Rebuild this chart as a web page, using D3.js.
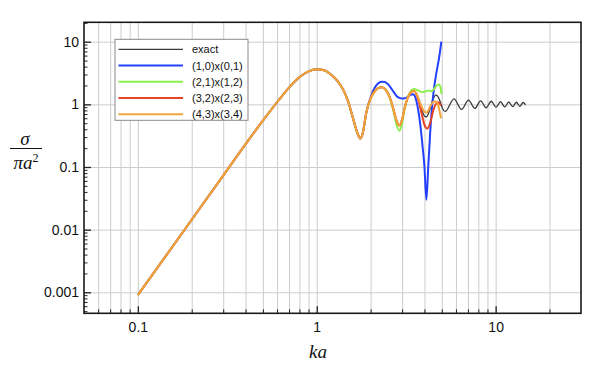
<!DOCTYPE html>
<html>
<head>
<meta charset="utf-8">
<script src="https://cdn.jsdelivr.net/npm/d3@7"></script>
<style>
  body { margin: 0; background: #fff; }
  svg { display: block; }
</style>
</head>
<body>
<div id="chart"></div>
<script>
// Values (sigma / pi a^2 against ka)

// part shared by all curves (they lie on top of each other up to ka ~ 1.9)
var kaCommon = [0.1, 0.2, 0.3, 0.4, 0.5, 0.6, 0.7, 0.8, 0.9, 1.0, 1.1, 1.2, 1.3, 1.4, 1.5, 1.6, 1.7, 1.75, 1.8, 1.9];
var sigmaCommon = [0.0009, 0.0144, 0.073, 0.232, 0.55, 1.08, 1.85, 2.7, 3.35, 3.62, 3.5, 3.0, 2.4, 1.75, 1.1, 0.58, 0.33, 0.285, 0.33, 0.78];

var kaExact = [2.0, 2.1, 2.2, 2.3, 2.4, 2.5, 2.6, 2.7, 2.8, 2.9, 3.0, 3.1, 3.2, 3.3, 3.4, 3.5, 3.6, 3.7, 3.8, 3.9, 4.0, 4.1, 4.2, 4.3, 4.4, 4.5, 4.62, 4.75, 4.9, 5.05, 5.22,
  5.85, 6.45, 7.05, 7.65, 8.25, 8.85, 9.45, 10.05, 10.65, 11.25, 11.85, 12.45, 13.05, 13.65, 14.25, 14.7];
var sigmaExact = [1.25, 1.6, 1.82, 1.88, 1.78, 1.5, 1.14, 0.78, 0.54, 0.46, 0.57, 0.88, 1.2, 1.45, 1.6, 1.63, 1.5, 1.24, 0.96, 0.76, 0.65, 0.63, 0.7, 0.86, 1.06, 1.26, 1.4, 1.34, 1.1, 0.86, 0.77,
  1.22, 0.83, 1.17, 0.86, 1.14, 0.88, 1.12, 0.9, 1.1, 0.91, 1.09, 0.92, 1.08, 0.93, 1.07, 0.98];

var kaBlue = [2.0, 2.1, 2.2, 2.3, 2.4, 2.5, 2.6, 2.7, 2.8, 2.9, 3.0, 3.1, 3.2, 3.3, 3.4, 3.5, 3.6, 3.7, 3.8, 3.9, 4.0, 4.1, 4.2, 4.3, 4.4, 4.5, 4.6, 4.7, 4.8, 4.9, 4.97];
var sigmaBlue = [1.3, 1.8, 2.15, 2.3, 2.28, 2.1, 1.82, 1.55, 1.35, 1.27, 1.24, 1.25, 1.3, 1.38, 1.45, 1.42, 1.15, 0.78, 0.45, 0.22, 0.1, 0.03, 0.1, 0.33, 0.85, 1.6, 2.5, 3.6, 5.0, 7.3, 10];

var kaGreen = [2.0, 2.1, 2.2, 2.3, 2.4, 2.5, 2.6, 2.7, 2.8, 2.9, 3.0, 3.1, 3.2, 3.3, 3.4, 3.5, 3.6, 3.75, 3.9, 4.05, 4.2, 4.35, 4.5, 4.65, 4.8, 4.9, 4.98];
var sigmaGreen = [1.22, 1.58, 1.8, 1.88, 1.78, 1.5, 1.1, 0.72, 0.46, 0.38, 0.5, 0.85, 1.2, 1.5, 1.7, 1.76, 1.72, 1.62, 1.57, 1.6, 1.66, 1.62, 1.72, 1.95, 2.08, 1.95, 1.45];

var kaRed = [2.0, 2.1, 2.2, 2.3, 2.4, 2.5, 2.6, 2.7, 2.8, 2.9, 3.0, 3.1, 3.2, 3.3, 3.4, 3.5, 3.6, 3.7, 3.8, 3.9, 4.0, 4.15, 4.3, 4.45, 4.6, 4.75, 4.85, 4.95];
var sigmaRed = [1.24, 1.6, 1.82, 1.88, 1.78, 1.5, 1.14, 0.78, 0.54, 0.46, 0.57, 0.88, 1.2, 1.45, 1.6, 1.63, 1.47, 1.17, 0.86, 0.62, 0.47, 0.41, 0.5, 0.74, 0.98, 1.08, 1.04, 0.96];

var kaOrange = [2.0, 2.1, 2.2, 2.3, 2.4, 2.5, 2.6, 2.7, 2.8, 2.9, 3.0, 3.1, 3.2, 3.3, 3.4, 3.5, 3.6, 3.7, 3.8, 3.9, 4.0, 4.1, 4.2, 4.3, 4.45, 4.6, 4.75, 4.85, 4.95];
var sigmaOrange = [1.25, 1.6, 1.82, 1.88, 1.78, 1.5, 1.14, 0.78, 0.54, 0.46, 0.57, 0.88, 1.2, 1.45, 1.6, 1.63, 1.5, 1.26, 1.02, 0.86, 0.77, 0.74, 0.79, 0.92, 1.07, 1.12, 1.0, 0.8, 0.6];

var seriesNames = ["exact", "(1,0)x(0,1)", "(2,1)x(1,2)", "(3,2)x(2,3)", "(4,3)x(3,4)"];
var seriesColors = ["#3a3a3a", "#2440ff", "#8cf04c", "#ea4224", "#f3a43c"];

var xMajor = [0.1, 1, 10];
var xMinor = [0.06, 0.07, 0.08, 0.09, 0.2, 0.3, 0.4, 0.5, 0.6, 0.7, 0.8, 0.9, 2, 3, 4, 5, 6, 7, 8, 9, 20];
var yMajor = [0.001, 0.01, 0.1, 1, 10];
var yMinor = [0.0005, 0.0006, 0.0007, 0.0008, 0.0009,
  0.002, 0.003, 0.004, 0.005, 0.006, 0.007, 0.008, 0.009,
  0.02, 0.03, 0.04, 0.05, 0.06, 0.07, 0.08, 0.09,
  0.2, 0.3, 0.4, 0.5, 0.6, 0.7, 0.8, 0.9,
  2, 3, 4, 5, 6, 7, 8, 9, 20];
var yTickLabels = ["0.001", "0.01", "0.1", "1", "10"];
var xTickLabels = ["0.1", "1", "10"];

var W = 600, H = 371;
var plotLeft = 84, plotRight = 581, plotTop = 22.3, plotBottom = 313.3;

var svg = d3.select("#chart").append("svg")
  .attr("width", W)
  .attr("height", H);

var x = d3.scaleLog().domain([0.05, 30]).range([plotLeft, plotRight]);
var y = d3.scaleLog().domain([0.000462, 20.4]).range([plotBottom, plotTop]);

// grid
svg.append("g")
  .attr("transform", `translate(0, ${plotBottom})`)
  .call(d3.axisBottom(x).tickValues(xMajor.concat(xMinor)).tickSize(-(plotBottom - plotTop)).tickFormat(""))
  .call(g => g.select(".domain").remove())
  .selectAll("line").attr("stroke", "#cccccc").attr("stroke-width", 1);

svg.append("g")
  .attr("transform", `translate(${plotLeft}, 0)`)
  .call(d3.axisLeft(y).tickValues(yMajor).tickSize(-(plotRight - plotLeft)).tickFormat(""))
  .call(g => g.select(".domain").remove())
  .selectAll("line").attr("stroke", "#cccccc").attr("stroke-width", 1);

// curves
var line = d3.line()
  .x(d => x(d[0]))
  .y(d => y(d[1]))
  .curve(d3.curveMonotoneX);

var tails = [[kaExact, sigmaExact], [kaBlue, sigmaBlue], [kaGreen, sigmaGreen], [kaRed, sigmaRed], [kaOrange, sigmaOrange]];

tails.forEach(function(t, i) {
  var ka = kaCommon.concat(t[0]);
  var sg = sigmaCommon.concat(t[1]);
  var pts = ka.map((k, j) => [k, sg[j]]);
  svg.append("path")
    .attr("d", line(pts))
    .attr("fill", "none")
    .attr("stroke", seriesColors[i])
    .attr("stroke-width", i == 0 ? 1.3 : 2)
    .attr("stroke-linejoin", "round");
});

// ticks (inward) and labels
var tickFont = "Helvetica, Arial, 'Liberation Sans', sans-serif";

svg.append("g")
  .attr("transform", `translate(0, ${plotBottom})`)
  .call(d3.axisBottom(x).tickValues(xMinor).tickSize(-4).tickFormat(""))
  .call(g => g.select(".domain").remove())
  .selectAll("line").attr("stroke", "#222");

svg.append("g")
  .attr("transform", `translate(0, ${plotBottom})`)
  .call(d3.axisBottom(x).tickValues(xMajor).tickSize(-7).tickPadding(9).tickFormat((d, i) => xTickLabels[i]))
  .call(g => g.select(".domain").remove())
  .call(g => g.selectAll("line").attr("stroke", "#222").attr("stroke-width", 1.3))
  .call(g => g.selectAll("text").attr("font-family", tickFont).attr("font-size", 14).attr("fill", "#111"));

svg.append("g")
  .attr("transform", `translate(${plotLeft}, 0)`)
  .call(d3.axisLeft(y).tickValues(yMinor).tickSize(-3.5).tickFormat(""))
  .call(g => g.select(".domain").remove())
  .selectAll("line").attr("stroke", "#222");

svg.append("g")
  .attr("transform", `translate(${plotLeft}, 0)`)
  .call(d3.axisLeft(y).tickValues(yMajor).tickSize(-7).tickPadding(5).tickFormat((d, i) => yTickLabels[i]))
  .call(g => g.select(".domain").remove())
  .call(g => g.selectAll("line").attr("stroke", "#222").attr("stroke-width", 1.3))
  .call(g => g.selectAll("text").attr("font-family", tickFont).attr("font-size", 14).attr("fill", "#111"));

// frame
svg.append("rect")
  .attr("x", plotLeft)
  .attr("y", plotTop)
  .attr("width", plotRight - plotLeft)
  .attr("height", plotBottom - plotTop)
  .attr("fill", "none")
  .attr("stroke", "#1a1a1a")
  .attr("stroke-width", 1.6);

// legend
var lg = svg.append("g");
lg.append("rect")
  .attr("x", 115).attr("y", 39.3)
  .attr("width", 133).attr("height", 81)
  .attr("fill", "#fff")
  .attr("stroke", "#8a8a8a")
  .attr("stroke-width", 1);

seriesNames.forEach(function(name, i) {
  var ly = 49.3 + i * 16.25;
  lg.append("line")
    .attr("x1", 118.5).attr("x2", 183)
    .attr("y1", ly).attr("y2", ly)
    .attr("stroke", seriesColors[i])
    .attr("stroke-width", i == 0 ? 1.3 : 2);
  lg.append("text")
    .attr("x", 192).attr("y", ly + 4)
    .attr("font-family", tickFont)
    .attr("font-size", 11)
    .attr("fill", "#111")
    .text(name);
});

// axis titles
var mathFont = "'Liberation Serif', 'DejaVu Serif', serif";

svg.append("text")
  .attr("x", 318).attr("y", 358)
  .attr("text-anchor", "middle")
  .attr("font-family", mathFont)
  .attr("font-style", "italic")
  .attr("font-size", 19)
  .attr("fill", "#111")
  .text("ka");

svg.append("text")
  .attr("x", 25).attr("y", 145)
  .attr("text-anchor", "middle")
  .attr("font-family", mathFont)
  .attr("font-style", "italic")
  .attr("font-size", 19)
  .attr("fill", "#111")
  .text("σ");

svg.append("line")
  .attr("x1", 10).attr("x2", 42)
  .attr("y1", 148.5).attr("y2", 148.5)
  .attr("stroke", "#111")
  .attr("stroke-width", 1);

svg.append("text")
  .attr("x", 26).attr("y", 169)
  .attr("text-anchor", "middle")
  .attr("font-family", mathFont)
  .attr("font-style", "italic")
  .attr("font-size", 19)
  .attr("fill", "#111")
  .text("πa")
  .append("tspan")
  .attr("dy", -7)
  .attr("font-size", 12)
  .attr("font-style", "normal")
  .text("2");
</script>
</body>
</html>
